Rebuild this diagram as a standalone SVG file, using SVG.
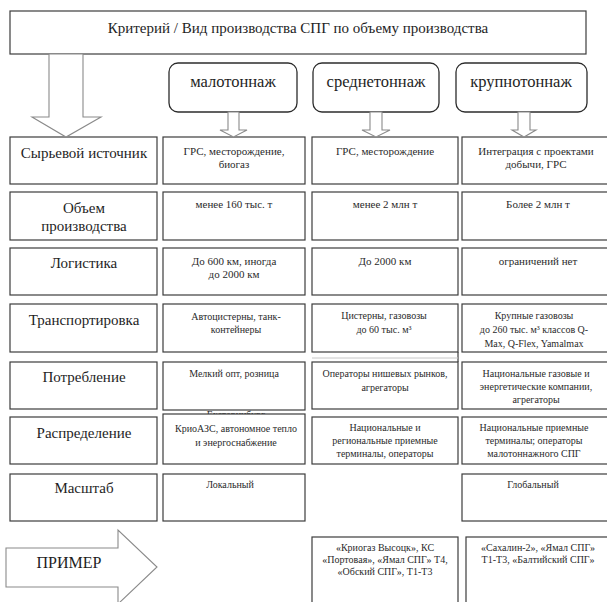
<svg xmlns="http://www.w3.org/2000/svg" width="607" height="602" viewBox="0 0 607 602" font-family="'Liberation Serif', 'Times New Roman', serif">
  <style>
    .box { fill: #ffffff; stroke: #3c3c3c; stroke-width: 1.2; }
    .rbox { fill: #ffffff; stroke: #2c2c2c; stroke-width: 1.3; }
    .arrow { fill: #ffffff; stroke: #8a8a8a; stroke-width: 1.1; stroke-linejoin: miter; }
    .thin { stroke: #3c3c3c; stroke-width: 1.2; fill: none; }
    text { font-family: 'Liberation Serif', 'Times New Roman', serif; text-anchor: middle; fill: #1e1e1e; }
    .h { font-size: 15px; }
    .cls { font-size: 16.5px; }
    .lbl { font-size: 15px; }
    .big { font-size: 16px; }
    .cell { font-size: 11px; fill: #2a2a2a; }
    .cell2 { font-size: 10px; fill: #2a2a2a; }
    .small { font-size: 10px; fill: #2a2a2a; }
  </style>
  <defs>
    <clipPath id="above-row6">
      <rect x="160" y="400" width="150" height="14"/>
    </clipPath>
  </defs>

  <rect width="607" height="602" fill="#ffffff"/>

  <!-- title -->
  <g id="title">
    <rect class="box" x="10" y="11" width="576" height="43"/>
    <text class="h" x="298" y="33">Критерий / Вид производства СПГ по объему производства</text>
  </g>

  <!-- production classes -->
  <g id="class-small">
    <rect class="rbox" x="169" y="63" width="128" height="49" rx="9"/>
    <text class="cls" x="233" y="87">малотоннаж</text>
  </g>
  <g id="class-medium">
    <rect class="rbox" x="313" y="63" width="126" height="49" rx="9"/>
    <text class="cls" x="376" y="87">среднетоннаж</text>
  </g>
  <g id="class-large">
    <rect class="rbox" x="456" y="63" width="131" height="49" rx="9"/>
    <text class="cls" x="521" y="87">крупнотоннаж</text>
  </g>

  <!-- criteria column -->
  <g id="crit-source">
    <rect class="box" x="10" y="137" width="147" height="47"/>
    <text class="lbl" x="84" y="158">Сырьевой источник</text>
  </g>
  <g id="crit-volume">
    <rect class="box" x="10" y="192" width="147" height="48"/>
    <text class="lbl" x="84" y="213">Объем</text>
    <text class="lbl" x="84" y="231">производства</text>
  </g>
  <g id="crit-logistics">
    <rect class="box" x="10" y="248" width="147" height="47"/>
    <text class="lbl" x="84" y="268">Логистика</text>
  </g>
  <g id="crit-transport">
    <rect class="box" x="10" y="304" width="147" height="48"/>
    <text class="lbl" x="84" y="325">Транспортировка</text>
  </g>
  <g id="crit-consumption">
    <rect class="box" x="10" y="362" width="147" height="47"/>
    <text class="lbl" x="84" y="382">Потребление</text>
  </g>
  <g id="crit-distribution">
    <rect class="box" x="10" y="417" width="147" height="47"/>
    <text class="lbl" x="84" y="438">Распределение</text>
  </g>
  <g id="crit-scale">
    <rect class="box" x="10" y="474" width="147" height="47"/>
    <text class="lbl" x="84" y="493">Масштаб</text>
  </g>

  <!-- small-scale column -->
  <g id="small-source">
    <rect class="box" x="163" y="137" width="142" height="47"/>
    <text class="cell" x="234" y="155">ГРС, месторождение,</text>
    <text class="cell" x="234" y="168">биогаз</text>
  </g>
  <g id="small-volume">
    <rect class="box" x="163" y="192" width="142" height="48"/>
    <text class="cell" x="234" y="208">менее 160 тыс. т</text>
  </g>
  <g id="small-logistics">
    <rect class="box" x="163" y="248" width="142" height="47"/>
    <text class="cell" x="234" y="265">До 600 км, иногда</text>
    <text class="cell" x="234" y="278">до 2000 км</text>
  </g>
  <g id="small-transport">
    <rect class="box" x="163" y="304" width="142" height="48"/>
    <text class="cell2" x="236" y="320">Автоцистерны, танк-</text>
    <text class="cell2" x="236" y="333">контейнеры</text>
  </g>
  <g id="small-consumption">
    <rect class="box" x="163" y="362" width="142" height="48"/>
    <text class="cell2" x="234" y="377">Мелкий опт, розница</text>
    <text class="cell2" x="236" y="418" clip-path="url(#above-row6)">Екатеринбург</text>
  </g>
  <g id="small-distribution">
    <rect class="box" x="163" y="414" width="142" height="50"/>
    <text class="cell2" x="236" y="432">КриоАЗС, автономное тепло</text>
    <text class="cell2" x="236" y="446">и энергоснабжение</text>
  </g>
  <g id="small-scale">
    <rect class="box" x="163" y="474" width="142" height="47"/>
    <text class="small" x="230" y="488">Локальный</text>
  </g>

  <!-- medium-scale column -->
  <g id="medium-source">
    <rect class="box" x="312" y="137" width="146" height="47"/>
    <text class="cell" x="385" y="155">ГРС, месторождение</text>
  </g>
  <g id="medium-volume">
    <rect class="box" x="312" y="192" width="146" height="48"/>
    <text class="cell" x="385" y="208">менее 2 млн т</text>
  </g>
  <g id="medium-logistics">
    <rect class="box" x="312" y="248" width="146" height="47"/>
    <text class="cell" x="385" y="265">До 2000 км</text>
  </g>
  <g id="medium-transport">
    <rect class="box" x="312" y="304" width="146" height="48"/>
    <text class="cell2" x="384" y="319">Цистерны, газовозы</text>
    <text class="cell2" x="384" y="333">до 60 тыс. м³</text>
    <line class="thin" x1="458" y1="352" x2="458" y2="362"/>
    <line x1="312" y1="358" x2="458" y2="358" stroke="#c8c8c8" stroke-width="1"/>
  </g>
  <g id="medium-consumption">
    <rect class="box" x="312" y="362" width="146" height="47"/>
    <text class="cell2" x="385" y="377">Операторы нишевых рынков,</text>
    <text class="cell2" x="385" y="391">агрегаторы</text>
  </g>
  <g id="medium-distribution">
    <rect class="box" x="312" y="417" width="146" height="47"/>
    <text class="cell2" x="385" y="431">Национальные и</text>
    <text class="cell2" x="385" y="444">региональные приемные</text>
    <text class="cell2" x="385" y="457">терминалы, операторы</text>
  </g>

  <!-- large-scale column -->
  <g id="large-source">
    <rect class="box" x="462" y="137" width="152" height="47"/>
    <text class="cell" x="536" y="155">Интеграция с проектами</text>
    <text class="cell" x="536" y="168">добычи, ГРС</text>
  </g>
  <g id="large-volume">
    <rect class="box" x="462" y="192" width="152" height="48"/>
    <text class="cell" x="538" y="208">Более 2 млн т</text>
  </g>
  <g id="large-logistics">
    <rect class="box" x="462" y="248" width="152" height="47"/>
    <text class="cell" x="538" y="265">ограничений нет</text>
  </g>
  <g id="large-transport">
    <rect class="box" x="462" y="304" width="152" height="48"/>
    <text class="cell2" x="534" y="319">Крупные газовозы</text>
    <text class="cell2" x="534" y="333">до 260 тыс. м³ классов Q-</text>
    <text class="cell2" x="534" y="347">Max, Q-Flex, Yamalmax</text>
  </g>
  <g id="large-consumption">
    <rect class="box" x="462" y="362" width="152" height="47"/>
    <text class="cell2" x="536" y="377">Национальные газовые и</text>
    <text class="cell2" x="536" y="390">энергетические компании,</text>
    <text class="cell2" x="536" y="403">агрегаторы</text>
  </g>
  <g id="large-distribution">
    <rect class="box" x="462" y="417" width="152" height="47"/>
    <text class="cell2" x="534" y="431">Национальные приемные</text>
    <text class="cell2" x="534" y="444">терминалы; операторы</text>
    <text class="cell2" x="534" y="457">малотоннажного СПГ</text>
  </g>
  <g id="large-scale">
    <rect class="box" x="462" y="474" width="152" height="47"/>
    <text class="small" x="533" y="488">Глобальный</text>
  </g>

  <!-- examples -->
  <g id="example-medium">
    <rect class="box" x="312" y="537" width="146" height="70"/>
    <text class="cell2" x="385" y="551">«Криогаз Высоцк», КС</text>
    <text class="cell2" x="385" y="563">«Портовая», «Ямал СПГ» Т4,</text>
    <text class="cell2" x="385" y="575">«Обский СПГ», Т1-Т3</text>
  </g>
  <g id="example-large">
    <rect class="box" x="466" y="537" width="148" height="70"/>
    <text class="cell2" x="538" y="551">«Сахалин-2», «Ямал СПГ»</text>
    <text class="cell2" x="538" y="563">Т1-Т3, «Балтийский СПГ»</text>
  </g>

  <!-- block arrows -->
  <g id="connectors">
    <polygon class="arrow" points="49,54 83,54 83,117 101,117 66,137 32,117 49,117 49,54"/>
    <polygon class="arrow" points="228,112 239,112 239,130 247,130 233.5,137 220,130 228,130"/>
    <polygon class="arrow" points="370,112 382,112 382,130 390,130 376,137 362,130 370,130"/>
    <polygon class="arrow" points="518,112 530,112 530,130 536,130 524,137 512,130 518,130"/>
    <g id="example-arrow">
      <polygon class="arrow" points="6,548 118,548 118,530 157,567 118,604 118,587 6,587"/>
      <text class="big" x="69" y="568">ПРИМЕР</text>
    </g>
  </g>
</svg>
